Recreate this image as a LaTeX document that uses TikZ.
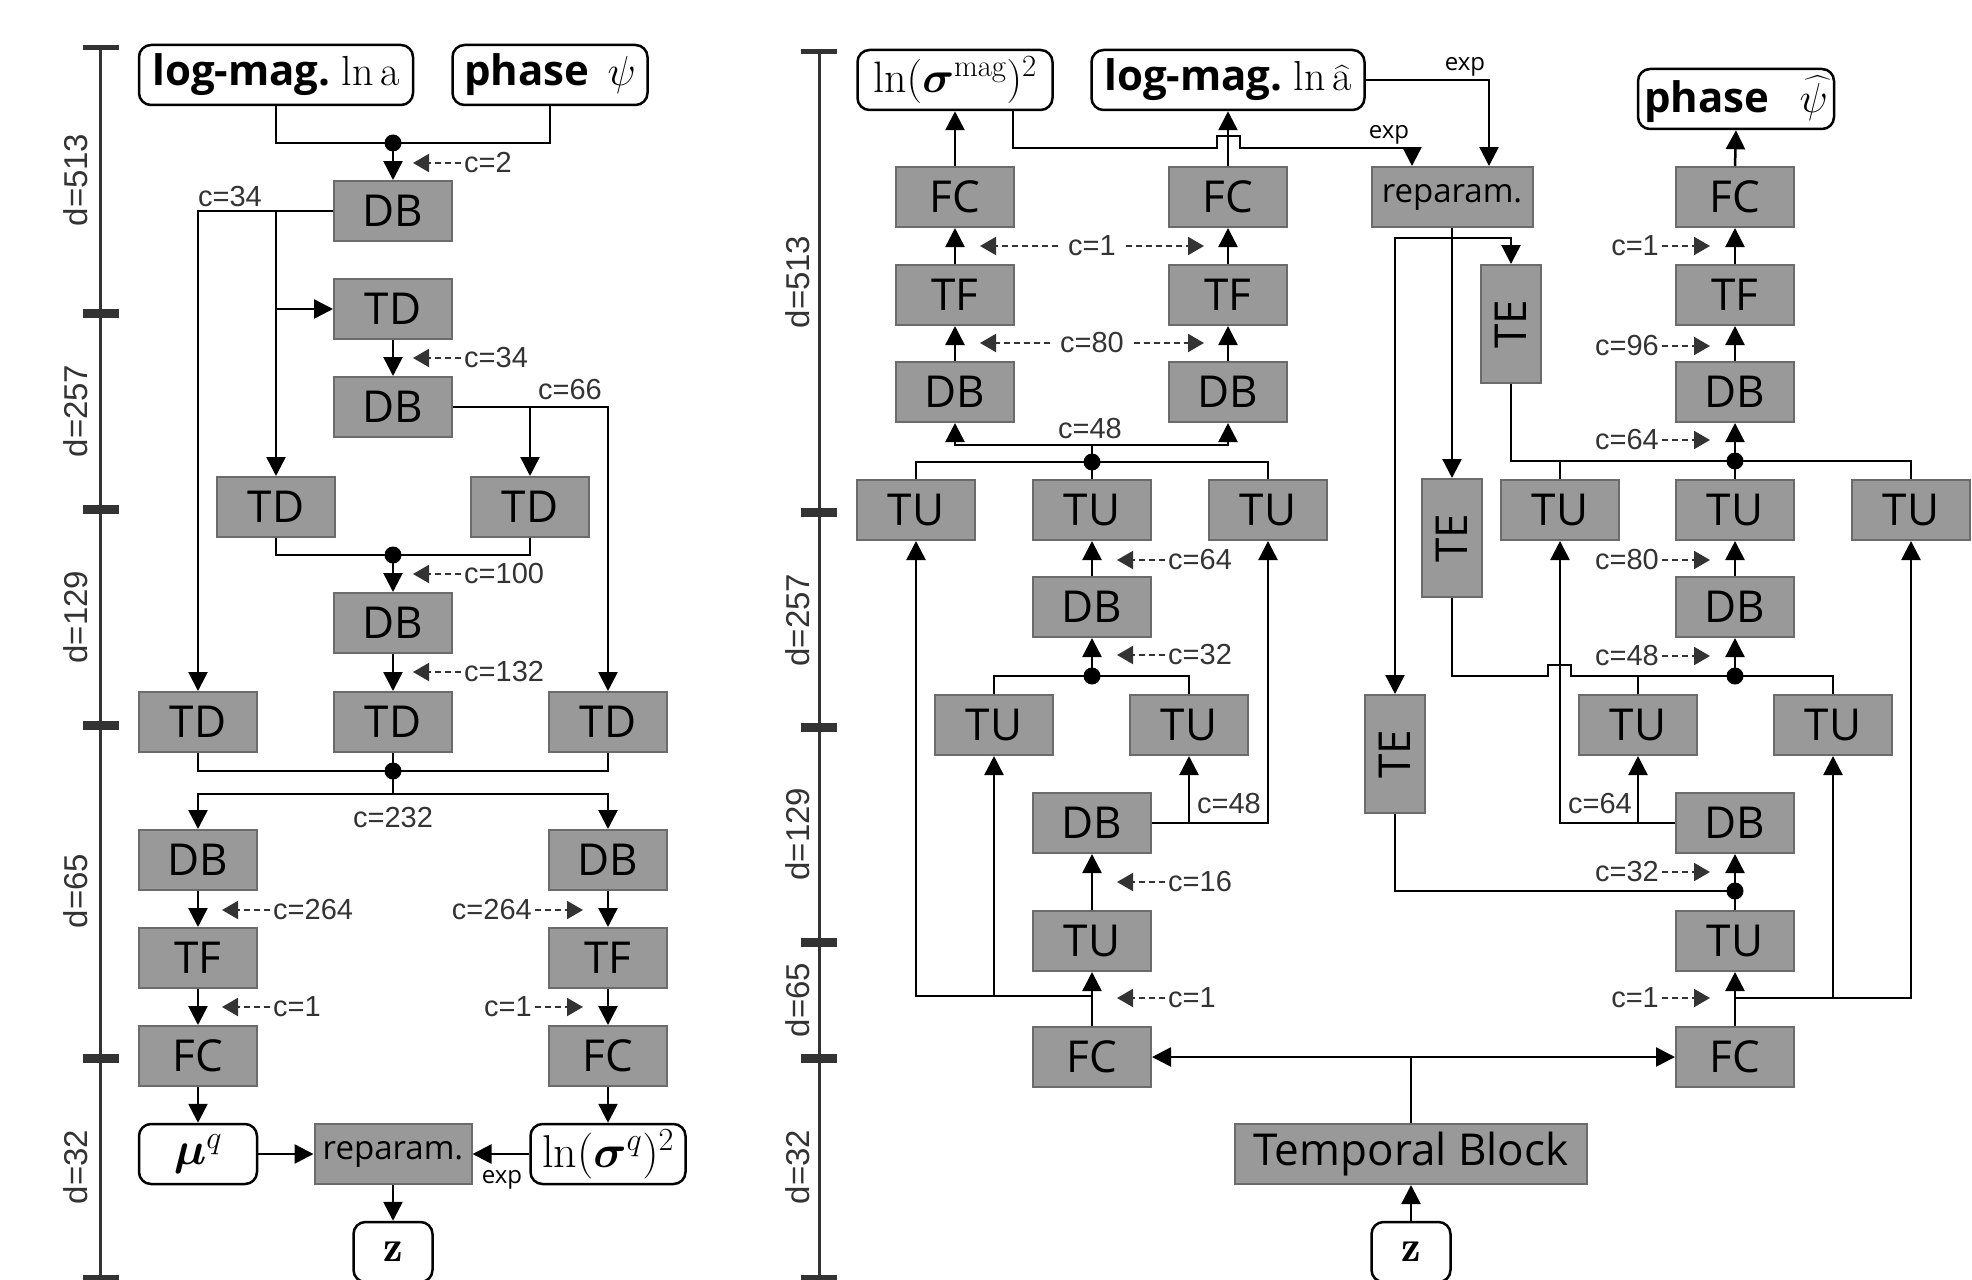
\RequirePackage{fix-cm}
\documentclass[tikz,border=0pt]{standalone}
\usepackage{amsmath}
\usepackage{fontspec}
\newfontfamily\osans{Open Sans}
\newfontfamily\lsans{Liberation Sans}
\usetikzlibrary{arrows.meta,calc}
\definecolor{boxfill}{HTML}{999999}
\definecolor{boxline}{HTML}{6B6B6B}
\definecolor{lab}{HTML}{333333}
\tikzset{
 blk/.style={draw=boxline, fill=boxfill, line width=2pt, minimum width=118pt, minimum height=60pt, inner sep=0pt, font=\osans\fontsize{44}{48}\selectfont},
 tebox/.style={blk, minimum width=60pt, minimum height=118pt},
 io/.style={draw=black, fill=white, line width=2.5pt, rounded corners=12pt, minimum height=60pt, inner sep=0pt, font=\osans\fontsize{42}{46}\selectfont},
 conn/.style={line width=2.5pt, draw=black},
 arr/.style={conn, -{Triangle[length=19pt,width=19pt]}},
 carr/.style={draw=lab, line width=2pt, dash pattern=on 6pt off 4pt, -{Triangle[length=16pt,width=18pt]}},
 clab/.style={text=lab, font=\lsans\fontsize{29}{32}\selectfont, inner sep=3pt},
 dlab/.style={text=lab, font=\lsans\fontsize{33}{36}\selectfont, rotate=90, inner sep=0pt},
 explab/.style={font=\osans\fontsize{24}{26}\selectfont, inner sep=0pt},
 dot/.style={circle, fill=black, minimum size=17pt, inner sep=0pt},
 scalebar/.style={draw=lab, line width=3pt},
 tick/.style={draw=lab, line width=9pt},
 endtick/.style={draw=lab, line width=5pt},
}
\newcommand\clabL[4]{%
  \coordinate (#1-t) at (#2,#3);
  \node[clab, anchor=west] (#1) at ([xshift=48pt]#1-t) {#4};
  \draw[carr] (#1.west) -- (#1-t);}
\newcommand\clabR[4]{%
  \coordinate (#1-t) at (#2,#3);
  \node[clab, anchor=east] (#1) at ([xshift=-48pt]#1-t) {#4};
  \draw[carr] (#1.east) -- (#1-t);}
\newcommand\clabB[5]{%
  \coordinate (#1-l) at (#2,#4);
  \coordinate (#1-r) at (#3,#4);
  \node[clab, inner sep=10pt] (#1) at ($(#1-l)!0.5!(#1-r)$) {#5};
  \draw[carr] (#1.west) -- (#1-l);
  \draw[carr] (#1.east) -- (#1-r);}
\begin{document}
\begin{tikzpicture}[x=1pt,y=-1pt]
\useasboundingbox (0,0) rectangle (1972,1279);

% ---------------- left scale ----------------
\draw[scalebar] (100,48) -- (100,1279);
\draw[endtick] (83,48) -- (119,48);
\foreach \yy in {313,509,725,1058} {\draw[tick] (83,\yy) -- (119,\yy);}
\draw[tick] (83,1279) -- (119,1279);
\node[dlab] (ld1) at (76,180) {d=513};
\node[dlab] (ld2) at (76,411) {d=257};
\node[dlab] (ld3) at (76,617) {d=129};
\node[dlab] (ld4) at (76,891) {d=65};
\node[dlab] (ld5) at (76,1167) {d=32};

% ---------------- right scale ----------------
\draw[scalebar] (819,52) -- (819,1279);
\draw[endtick] (801,52) -- (837,52);
\foreach \yy in {512,727,942,1058} {\draw[tick] (801,\yy) -- (837,\yy);}
\draw[tick] (801,1279) -- (837,1279);
\node[dlab] (rd1) at (798,282) {d=513};
\node[dlab] (rd2) at (798,620) {d=257};
\node[dlab] (rd3) at (798,834) {d=129};
\node[dlab] (rd4) at (798,1000) {d=65};
\node[dlab] (rd5) at (798,1167) {d=32};

% ---------------- left panel ----------------
\node[io, minimum width=274pt] (lmag) at (276,75) {\textbf{log-mag.}~$\ln\mathrm{a}$};
\node[io, minimum width=195pt] (lphase) at (550,75) {\textbf{phase}\hspace{18pt}$\psi$};
\node[dot] (ldot1) at (393,143) {};
\node[blk] (ldb1) at (393,211) {DB};
\node[blk] (ltd1) at (393,309) {TD};
\node[blk] (ldb2) at (393,407) {DB};
\node[blk] (ltd2) at (276,507) {TD};
\node[blk] (ltd3) at (530,507) {TD};
\node[dot] (ldot2) at (393,555) {};
\node[blk] (ldb3) at (393,623) {DB};
\node[blk] (ltd4) at (198,722) {TD};
\node[blk] (ltd5) at (393,722) {TD};
\node[blk] (ltd6) at (608,722) {TD};
\node[dot] (ldot3) at (393,771) {};
\coordinate (lsplit) at (393,794);
\node[blk] (ldb4) at (198,860) {DB};
\node[blk] (ldb5) at (608,860) {DB};
\node[blk] (ltf1) at (198,958) {TF};
\node[blk] (ltf2) at (608,958) {TF};
\node[blk] (lfc1) at (198,1056) {FC};
\node[blk] (lfc2) at (608,1056) {FC};
\node[io, minimum width=118pt, font=\fontsize{46}{50}\selectfont] (lmu) at (198,1154) {$\boldsymbol{\mu}^q$};
\node[blk, minimum width=157pt, font=\osans\fontsize{33}{36}\selectfont] (lrep) at (393,1154) {reparam.};
\node[io, minimum width=155pt, font=\fontsize{46}{50}\selectfont] (lsig) at (608,1154) {$\ln(\boldsymbol{\sigma}^q)^2$};
\node[io, minimum width=79pt, font=\fontsize{44}{48}\selectfont] (lz) at (393,1252) {$\mathbf{z}$};

\draw[conn] (lmag.south) |- (ldot1.center) -| (lphase.south);
\draw[arr] (ldot1.center) -- (ldb1.north);
\draw[arr] (ldb1.west) -| (ltd4.north);
\draw[arr] (ldb1.west -| ltd2.north) -- (ltd2.north);
\draw[arr] (ltd1.west -| ltd2.north) -- (ltd1.west);
\draw[arr] (ltd1.south) -- (ldb2.north);
\draw[arr] (ldb2.east) -| (ltd6.north);
\draw[arr] (ldb2.east -| ltd3.north) -- (ltd3.north);
\draw[conn] (ltd2.south) |- (ldot2.center) -| (ltd3.south);
\draw[arr] (ldot2.center) -- (ldb3.north);
\draw[arr] (ldb3.south) -- (ltd5.north);
\draw[conn] (ltd4.south) |- (ldot3.center) -| (ltd6.south);
\draw[conn] (ltd5.south) -- (ldot3.center);
\draw[arr] (ldot3.center) -- (lsplit) -| (ldb4.north);
\draw[arr] (lsplit) -| (ldb5.north);
\draw[arr] (ldb4.south) -- (ltf1.north);
\draw[arr] (ltf1.south) -- (lfc1.north);
\draw[arr] (lfc1.south) -- (lmu.north);
\draw[arr] (ldb5.south) -- (ltf2.north);
\draw[arr] (ltf2.south) -- (lfc2.north);
\draw[arr] (lfc2.south) -- (lsig.north);
\draw[arr] (lmu.east) -- (lrep.west);
\draw[arr] (lsig.west) -- (lrep.east);
\draw[arr] (lrep.south) -- (lz.north);

\node[clab] (lc34) at (230,197) {c=34};
\node[clab] (lc66) at (570,390) {c=66};
\node[clab] (lc232) at (393,818) {c=232};
\node[explab] (lexp) at (502,1180) {exp};
\clabL{lc2}{413}{163}{c=2}
\clabL{lc34b}{413}{358}{c=34}
\clabL{lc100}{413}{574}{c=100}
\clabL{lc132}{413}{672}{c=132}
\clabL{lc264a}{222}{910}{c=264}
\clabL{lc1a}{222}{1007}{c=1}
\clabR{lc264b}{583}{910}{c=264}
\clabR{lc1b}{583}{1007}{c=1}

% ---------------- right panel ----------------
\node[io, minimum width=195pt, font=\fontsize{44}{48}\selectfont] (rsig) at (955,80) {$\ln(\boldsymbol{\sigma}^{\mathrm{mag}})^2$};
\node[io, minimum width=273pt] (rmag) at (1228,80) {\textbf{log-mag.}~$\ln\widehat{\mathrm{a}}$};
\node[io, minimum width=196pt] (rphase) at (1736,99) {\textbf{phase}\hspace{30pt}$\widehat{\psi}$};
\node[blk, minimum width=161pt, font=\osans\fontsize{33}{36}\selectfont] (rrep) at (1452,197) {reparam.};

\node[blk] (rfc1) at (955,197) {FC};
\node[blk] (rfc2) at (1228,197) {FC};
\node[blk] (rfc3) at (1735,197) {FC};
\node[blk] (rtf1) at (955,295) {TF};
\node[blk] (rtf2) at (1228,295) {TF};
\node[blk] (rtf3) at (1735,295) {TF};
\node[blk] (rdb1) at (955,392) {DB};
\node[blk] (rdb2) at (1228,392) {DB};
\node[blk] (rdb3) at (1735,392) {DB};

\node[tebox] (te3) at (1511,324) {\rotatebox{90}{TE}};
\node[tebox] (te1) at (1452,538) {\rotatebox{90}{TE}};
\node[tebox] (te2) at (1395,754) {\rotatebox{90}{TE}};

\node[blk] (rtu1) at (916,510) {TU};
\node[blk] (rtu2) at (1092,510) {TU};
\node[blk] (rtu3) at (1268,510) {TU};
\node[blk] (rdb4) at (1092,607) {DB};
\node[blk] (rtu4) at (994,725) {TU};
\node[blk] (rtu5) at (1189,725) {TU};
\node[blk] (rdb5) at (1092,823) {DB};
\node[blk] (rtu6) at (1092,941) {TU};
\node[blk] (rfc4) at (1092,1057) {FC};

\node[blk] (rtu10) at (1560,510) {TU};
\node[blk] (rtu11) at (1735,510) {TU};
\node[blk] (rtu12) at (1911,510) {TU};
\node[blk] (rdb7) at (1735,607) {DB};
\node[blk] (rtu8) at (1638,725) {TU};
\node[blk] (rtu9) at (1833,725) {TU};
\node[blk] (rdb6) at (1735,823) {DB};
\node[blk] (rtu7) at (1735,941) {TU};
\node[blk] (rfc5) at (1735,1057) {FC};

\node[blk, minimum width=352pt] (rtb) at (1411,1154) {Temporal Block};
\node[io, minimum width=79pt, font=\fontsize{44}{48}\selectfont] (rz) at (1411,1252) {$\mathbf{z}$};

\node[dot] (rdot1) at (1092,462) {};
\node[dot] (rdot2) at (1092,676) {};
\node[dot] (rdot3) at (1735,891) {};
\node[dot] (rdot4) at (1735,676) {};
\node[dot] (rdot5) at (1735,461) {};
\coordinate (rsp1) at (1092,445);
\coordinate (rsp2) at (1092,996);
\coordinate (rsp4) at (1735,998);
\coordinate (rsp5) at (1452,238);

% top-left columns
\draw[arr] (rdb1.north) -- (rtf1.south);
\draw[arr] (rtf1.north) -- (rfc1.south);
\draw[arr] (rfc1.north) -- (rsig.south);
\draw[arr] (rdb2.north) -- (rtf2.south);
\draw[arr] (rtf2.north) -- (rfc2.south);
\draw[arr] (rfc2.north) -- (rmag.south);
\draw[arr] ([xshift=58pt]rsig.south) |- (1217,148) -- (1217,136) -- (1240,136) -- (1240,148) -| ([xshift=-40pt]rrep.north);
\draw[arr] (rmag.east) -| ([xshift=37pt]rrep.north);
\node[explab] (rexp1) at (1465,67) {exp};
\node[explab] (rexp2) at (1389,135) {exp};
\draw[arr] (rrep.south) -- (te1.north);
\draw[arr] (rsp5) -| (te2.north);
\draw[arr] (rsp5) -| (te3.north);

% center column
\draw[arr] (rdot1.center) -- (rsp1) -| (rdb1.south);
\draw[arr] (rsp1) -| (rdb2.south);
\draw[conn] (rtu1.north) |- (rdot1.center) -| (rtu3.north);
\draw[conn] (rtu2.north) -- (rdot1.center);
\draw[arr] (rdb4.north) -- (rtu2.south);
\draw[conn] (rtu4.north) |- (rdot2.center) -| (rtu5.north);
\draw[arr] (rdot2.center) -- (rdb4.south);
\draw[arr] (rdb5.east) -| (rtu3.south);
\draw[arr] (rdb5.east -| rtu5.south) -- (rtu5.south);
\draw[arr] (rtu6.north) -- (rdb5.south);
\draw[arr] (rfc4.north) -- (rtu6.south);
\draw[arr] (rsp2) -| (rtu1.south);
\draw[arr] (rsp2 -| rtu4.south) -- (rtu4.south);

% temporal block
\coordinate (rsp3) at (rtb.north |- rfc4.east);
\draw[conn] (rtb.north) -- (rsp3);
\draw[arr] (rsp3) -- (rfc4.east);
\draw[arr] (rsp3) -- (rfc5.west);
\draw[arr] (rz.north) -- (rtb.south);

% right column
\draw[arr] (rfc5.north) -- (rtu7.south);
\draw[arr] (rsp4) -| (rtu12.south);
\draw[arr] (rsp4 -| rtu9.south) -- (rtu9.south);
\draw[conn] (rtu7.north) -- (rdot3.center);
\draw[conn] (te2.south) |- (rdot3.center);
\draw[arr] (rdot3.center) -- (rdb6.south);
\draw[arr] (rdb6.west) -| (rtu10.south);
\draw[arr] (rdb6.west -| rtu8.south) -- (rtu8.south);
\draw[conn] (rtu8.north) |- (rdot4.center) -| (rtu9.north);
\draw[conn] (te1.south) |- (1548,676) -- (1548,665) -- (1571,665) -- (1571,676) -- (rtu8.north |- rdot4);
\draw[arr] (rdot4.center) -- (rdb7.south);
\draw[arr] (rdb7.north) -- (rtu11.south);
\draw[conn] (rtu10.north) |- (rdot5.center) -| (rtu12.north);
\draw[conn] (rtu11.north) -- (rdot5.center);
\draw[conn] (te3.south) |- (rdot5.center);
\draw[arr] (rdot5.center) -- (rdb3.south);
\draw[arr] (rdb3.north) -- (rtf3.south);
\draw[arr] (rtf3.north) -- (rfc3.south);
\draw[arr] (rfc3.north) -- (rphase.south);

% labels
\node[clab] (rc48a) at (1090,429) {c=48};
\node[clab] (rc48b) at (1229,804) {c=48};
\node[clab] (rc64c) at (1600,804) {c=64};
\clabB{rc1a}{980}{1204}{246}{c=1}
\clabB{rc80a}{980}{1204}{343}{c=80}
\clabL{rc64a}{1117}{560}{c=64}
\clabL{rc32a}{1117}{655}{c=32}
\clabL{rc16}{1117}{882}{c=16}
\clabL{rc1b}{1117}{998}{c=1}
\clabR{rc1c}{1710}{246}{c=1}
\clabR{rc96}{1710}{346}{c=96}
\clabR{rc64b}{1710}{440}{c=64}
\clabR{rc80b}{1710}{560}{c=80}
\clabR{rc48c}{1710}{656}{c=48}
\clabR{rc32b}{1710}{872}{c=32}
\clabR{rc1d}{1710}{998}{c=1}
\end{tikzpicture}
\end{document}
